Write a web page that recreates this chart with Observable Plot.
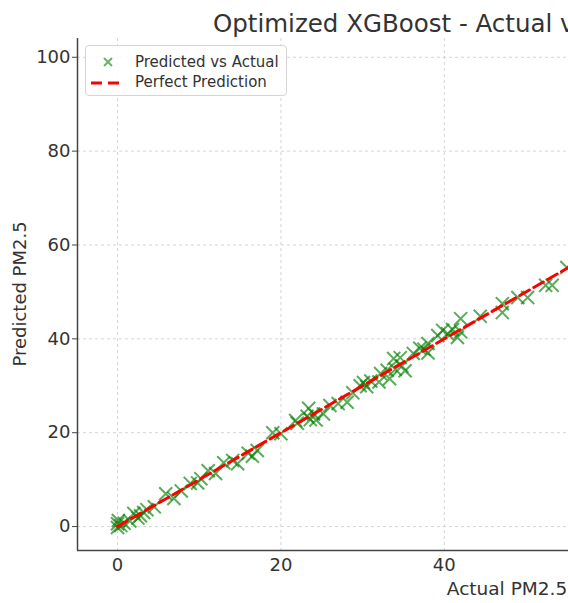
<!DOCTYPE html>
<html>
<head>
<meta charset="utf-8">
<script src="https://cdn.jsdelivr.net/npm/d3@7"></script>
<script src="https://cdn.jsdelivr.net/npm/@observablehq/plot@0.6"></script>
<style>
  html, body { margin: 0; padding: 0; background: #fff; overflow: hidden; }
  #wrap { position: relative; width: 568px; height: 603px; overflow: hidden; font-family: "DejaVu Sans", sans-serif; }
  #legend { position: absolute; left: 85px; top: 45px; width: 202px; height: 51px; border: 1px solid #d5d5d5; border-radius: 4px; background: rgba(255,255,255,0.85); box-sizing: border-box; font-size: 15px; color: #333; }
  .item { position: absolute; left: 0; height: 20px; display: flex; align-items: center; }
  .item span { position: absolute; left: 49px; white-space: nowrap; }
</style>
</head>
<body>
<div id="wrap"></div>
<script>
// ---- data ----
const actual = [0, 0.1, 0, 0.4, 0.8, 1.5, 2, 2.5, 2.8, 3.2, 3.6, 4.5, 5.9, 6.9, 7.8, 8.9, 9.8, 10.2, 11.1, 12,
  13, 14.1, 14.7, 16, 16.5, 17.1, 19, 20, 21.8, 22, 23.2, 23.4, 23.6, 24, 24.3, 25.2, 26, 27, 28.1, 28.8,
  29.7, 30.1, 30.5, 31, 32, 32.2, 33, 33.3, 33.8, 34, 34.6, 34.8, 35.2, 36.2, 37, 37.5, 38, 38, 39.2, 39.8,
  40.4, 41, 41.6, 42, 42, 44.4, 47.1, 47.1, 49, 50.2, 52.4, 53.2, 55];
const predicted = [0.6, 1.3, -0.2, 0.2, 0.7, 1.2, 2.8, 1.8, 2.3, 3, 3.6, 4.2, 7, 6, 7.6, 9.2, 9.3, 10.2, 11.9, 11.3,
  13.6, 14.1, 13.4, 15.6, 15, 16.2, 20, 19.8, 22.6, 22, 23.5, 25.2, 22.8, 24, 22.7, 24, 25.8, 26.2, 26.5, 28.5,
  30, 30.7, 29.8, 31, 30.8, 32.6, 33.3, 31.5, 35.8, 33.5, 36, 34.2, 33.2, 36.9, 38, 37.8, 37, 39, 40.7, 41.8,
  41.1, 42, 40.3, 44.3, 41.5, 44.8, 47.5, 45.6, 48.8, 48.8, 51.4, 51.4, 55.2];
const perfectLine = [0, 99];
const xTicks = [0, 20, 40];
const yTicks = [0, 20, 40, 60, 80, 100];
const xDomain = [-4.9, 55.2];
const yDomain = [-5.1, 104];
const seriesNames = ["Predicted vs Actual", "Perfect Prediction"];
const titleText = "Optimized XGBoost - Actual vs Predicted PM2.5";
const xLabel = "Actual PM2.5";
const yLabel = "Predicted PM2.5";

const points = actual.map((a, i) => ({actual: a, predicted: predicted[i]}));
const linePts = perfectLine.map(v => ({v}));

const chart = Plot.plot({
  width: 568,
  height: 603,
  marginLeft: 77,
  marginTop: 38,
  marginBottom: 53,
  marginRight: 0,
  style: {fontFamily: "DejaVu Sans, sans-serif", fontSize: "18px", color: "#333", background: "white"},
  x: {domain: xDomain},
  y: {domain: yDomain},
  marks: [
    Plot.gridX(xTicks, {stroke: "#bbb", strokeOpacity: 0.8, strokeDasharray: "3,3", strokeWidth: 0.8}),
    Plot.gridY(yTicks, {stroke: "#bbb", strokeOpacity: 0.8, strokeDasharray: "3,3", strokeWidth: 0.8}),
    Plot.dot(points, {x: "actual", y: "predicted", symbol: "times", r: 6, stroke: "#008000", strokeWidth: 2, strokeOpacity: 0.65, clip: true}),
    Plot.line(linePts, {x: "v", y: "v", stroke: "red", strokeWidth: 3, strokeDasharray: "11,5", clip: true}),
    Plot.ruleX([xDomain[0]], {stroke: "#444", strokeWidth: 1.5}),
    Plot.ruleY([yDomain[0]], {stroke: "#444", strokeWidth: 1.5}),
    Plot.axisY(yTicks, {tickSize: 5, tickPadding: 2, label: null, stroke: "#444", fontSize: 18}),
    Plot.axisX(xTicks, {tickSize: 0, tickPadding: 8, label: null, fontSize: 18})
  ]
});

document.getElementById("wrap").appendChild(chart);
const svg = d3.select(chart);
svg.append("text").attr("x", 213).attr("y", 32).attr("font-size", 24.5).attr("fill", "#333")
  .attr("text-anchor", "start").attr("font-family", "DejaVu Sans, sans-serif").text(titleText);
svg.append("text").attr("x", 507).attr("y", 595).attr("font-size", 18.5).attr("fill", "#333")
  .attr("text-anchor", "middle").attr("font-family", "DejaVu Sans, sans-serif").text(xLabel);
svg.append("text").attr("transform", "translate(26,294) rotate(-90)").attr("font-size", 18).attr("fill", "#333")
  .attr("text-anchor", "middle").attr("font-family", "DejaVu Sans, sans-serif").text(yLabel);

// legend
const legend = document.createElement("div");
legend.id = "legend";
legend.innerHTML = `
  <div class="item" style="top:6px;left:0;width:200px">
    <svg width="40" height="20" style="position:absolute;left:0;top:0">
      <path d="M18,6 L26,14 M26,6 L18,14" stroke="#008000" stroke-opacity="0.6" stroke-width="2"/>
    </svg><span>${seriesNames[0]}</span></div>
  <div class="item" style="top:26px;left:0;width:200px">
    <svg width="40" height="20" style="position:absolute;left:0;top:0">
      <line x1="5" y1="11" x2="34" y2="11" stroke="red" stroke-width="3" stroke-dasharray="11,6"/>
    </svg><span>${seriesNames[1]}</span></div>`;
document.getElementById("wrap").appendChild(legend);
</script>
</body>
</html>
